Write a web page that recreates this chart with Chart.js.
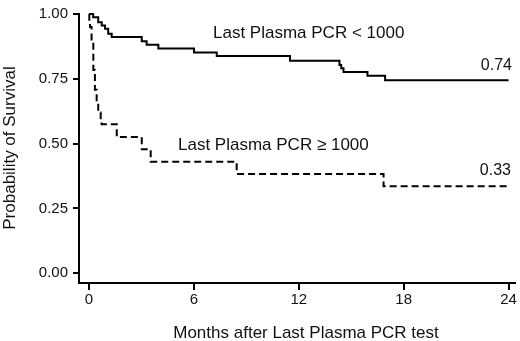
<!DOCTYPE html>
<html>
<head>
<meta charset="utf-8">
<script src="https://cdn.jsdelivr.net/npm/chart.js@4"></script>
<style>
    html, body { margin: 0; padding: 0; background: #fff; }
    #survivalChart { display: block; }
</style>
</head>
<body>
<canvas id="survivalChart" width="520" height="341"></canvas>
<script>
// Kaplan-Meier data
const lowMonths = [0, 0.24, 0.53, 0.73, 0.92, 1.10, 1.30, 3.02, 3.30, 3.97, 6.01, 7.31, 11.5, 14.33, 14.43, 14.56, 15.93, 16.94, 24];
const lowSurvival = [1.0, 0.987, 0.968, 0.956, 0.943, 0.924, 0.911, 0.895, 0.881, 0.867, 0.851, 0.838, 0.820, 0.803, 0.791, 0.776, 0.762, 0.744, 0.744];

const highMonths = [0, 0.02, 0.06, 0.15, 0.25, 0.34, 0.44, 0.53, 0.67, 0.72, 1.59, 3.02, 3.53, 8.45, 16.85, 24];
const highSurvival = [1.0, 0.97, 0.95, 0.898, 0.784, 0.708, 0.658, 0.62, 0.588, 0.575, 0.525, 0.478, 0.430, 0.383, 0.335, 0.335];

const xTicks = [0, 6, 12, 18, 24];
const yTicks = [0, 0.25, 0.5, 0.75, 1.0];

const lowLabel = 'Last Plasma PCR < 1000';
const highLabel = 'Last Plasma PCR \u2265 1000';
const lowFinal = '0.74';
const highFinal = '0.33';
const xTitle = 'Months after Last Plasma PCR test';
const yTitle = 'Probability of Survival';

const FONT = "'Liberation Sans', Arial, sans-serif";
const INK = '#111';

// Build {x, y} points
function toPoints(xs, ys) {
    return xs.map((x, i) => ({ x: x, y: ys[i] }));
}

// Text drawn on top of the chart
const textPlugin = {
    id: 'curveText',
    afterDraw(chart) {
        const ctx = chart.ctx;
        ctx.save();
        ctx.fillStyle = INK;
        ctx.textBaseline = 'middle';

        ctx.font = '17px ' + FONT;
        ctx.textAlign = 'left';
        ctx.fillText(lowLabel, 213, 33);
        ctx.fillText(highLabel, 178, 145);

        ctx.font = '16px ' + FONT;
        ctx.textAlign = 'right';
        ctx.fillText(lowFinal, 512, 66);
        ctx.fillText(highFinal, 511, 171);

        ctx.font = '17px ' + FONT;
        ctx.textAlign = 'center';
        ctx.fillText(xTitle, 306, 333);

        ctx.translate(10, 148);
        ctx.rotate(-Math.PI / 2);
        ctx.fillText(yTitle, 0, 0);
        ctx.restore();
    }
};

const axisStyle = {
    border: { display: true, color: '#000', width: 2 },
    grid: { display: true, drawOnChartArea: false, drawTicks: true, color: '#000', lineWidth: 2 }
};

new Chart(document.getElementById('survivalChart'), {
    type: 'line',
    data: {
        datasets: [
            {
                label: lowLabel,
                data: toPoints(lowMonths, lowSurvival),
                borderColor: '#000',
                borderWidth: 2,
                pointRadius: 0,
                stepped: true,
                fill: false,
                clip: false
            },
            {
                label: highLabel,
                data: toPoints(highMonths, highSurvival),
                borderColor: '#000',
                borderWidth: 2,
                borderDash: [7, 4],
                pointRadius: 0,
                stepped: true,
                fill: false,
                clip: false
            }
        ]
    },
    options: {
        responsive: false,
        animation: false,
        devicePixelRatio: 1,
        layout: { padding: { top: 10, right: 5, left: 0, bottom: 0 } },
        plugins: {
            legend: { display: false },
            tooltip: { enabled: false }
        },
        scales: {
            x: {
                type: 'linear',
                min: -0.57,
                max: 24.37,
                border: axisStyle.border,
                grid: Object.assign({}, axisStyle.grid, { tickLength: 7 }),
                ticks: {
                    color: INK,
                    font: { family: FONT, size: 15 },
                    padding: 1,
                    maxRotation: 0
                },
                afterBuildTicks: scale => {
                    scale.ticks = xTicks.map(v => ({ value: v }));
                },
                afterFit: scale => {
                    scale.height = 58;
                }
            },
            y: {
                type: 'linear',
                min: -0.038,
                max: 1.0,
                border: axisStyle.border,
                grid: Object.assign({}, axisStyle.grid, { tickLength: 6 }),
                ticks: {
                    color: INK,
                    font: { family: FONT, size: 15 },
                    padding: 5,
                    callback: v => Number(v).toFixed(2)
                },
                afterBuildTicks: scale => {
                    scale.ticks = yTicks.map(v => ({ value: v }));
                },
                afterFit: scale => {
                    scale.width = 79;
                }
            }
        }
    },
    plugins: [textPlugin]
});
</script>
</body>
</html>
